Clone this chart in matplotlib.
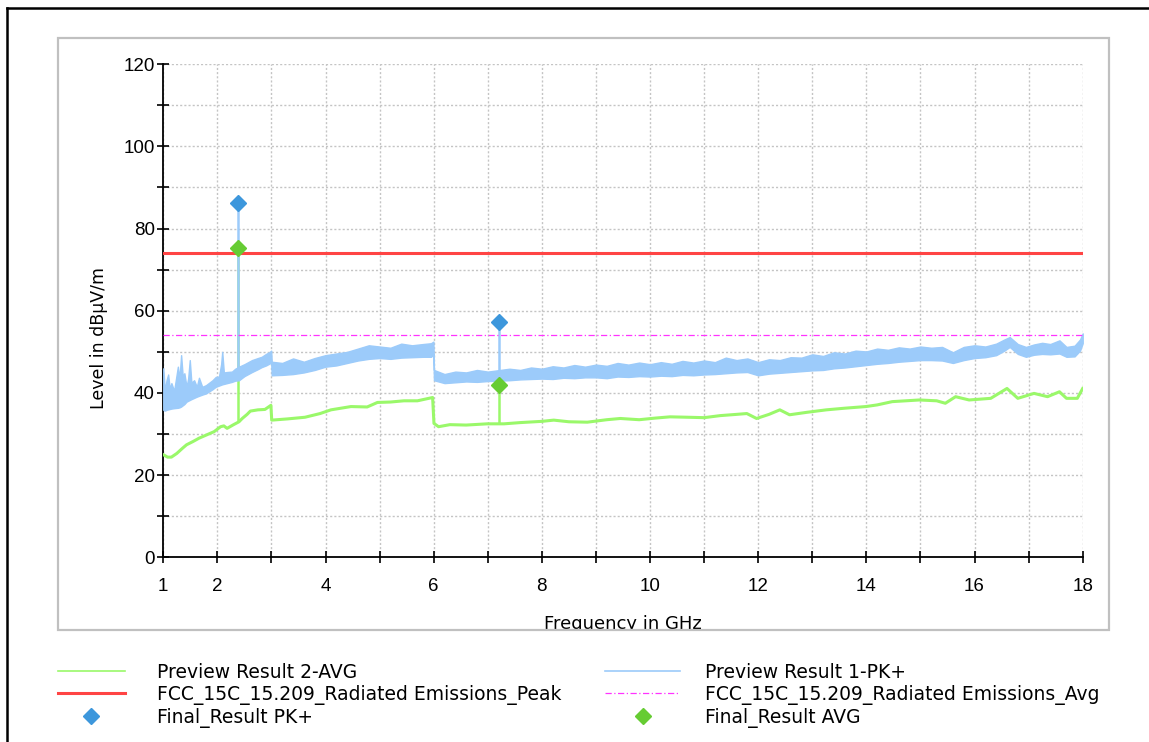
import numpy as np
import matplotlib
matplotlib.use("Agg")
import matplotlib.pyplot as plt
from matplotlib.patches import Rectangle
from matplotlib.lines import Line2D

plt.rcParams['font.family'] = ['Liberation Sans', 'DejaVu Sans']

# Preview Result 1-PK+ (noisy band: lower / upper envelope), GHz / dBuV/m
pk_freq = [1.00, 1.03, 1.06, 1.09, 1.12, 1.15, 1.20, 1.27, 1.30, 1.33, 1.36, 1.39,
           1.43, 1.46, 1.49, 1.52, 1.57, 1.62, 1.66, 1.72, 1.79, 1.85, 1.91, 1.97,
           2.03, 2.07, 2.09, 2.12, 2.18, 2.27, 2.33, 2.40, 2.50, 2.64, 2.75, 2.82,
           2.90, 2.97, 2.995,
           3.005, 3.2, 3.4, 3.6, 3.8, 4.0, 4.2, 4.4, 4.6, 4.8, 5.0, 5.2, 5.4, 5.6,
           5.8, 5.95, 5.995,
           6.005, 6.2, 6.4, 6.6, 6.8, 7.0, 7.4, 7.6, 7.8, 8.0, 8.2, 8.4, 8.6, 8.8,
           9.0, 9.2, 9.4, 9.6, 9.8, 10.0, 10.2, 10.4, 10.6, 10.8, 11.0, 11.2, 11.4,
           11.6, 11.8, 12.0, 12.2, 12.4, 12.6, 12.8, 13.0, 13.2, 13.4, 13.6, 13.8,
           14.0, 14.2, 14.4, 14.6, 14.8, 15.0, 15.2, 15.4, 15.6, 15.8, 16.0, 16.2,
           16.4, 16.55, 16.65, 16.8, 16.95, 17.1, 17.25, 17.4, 17.57, 17.7, 17.85,
           17.95, 18.0]
pk_lo = [35.9, 35.7, 35.9, 36.0, 36.1, 36.2, 36.3, 36.4, 36.5, 36.7, 37.0, 37.3,
         37.9, 38.1, 38.3, 38.5, 38.8, 39.1, 39.3, 39.6, 39.9, 40.4, 40.9, 41.5,
         41.8, 42.0, 42.1, 42.2, 42.4, 42.7, 43.0, 43.1, 44.1, 45.1, 45.8, 46.3,
         46.7, 47.2, 47.4,
         44.3, 44.4, 44.6, 45.0, 45.6, 46.4, 46.7, 47.3, 47.9, 48.3, 48.5, 48.3, 48.6, 48.7,
         48.8, 48.8, 49.3,
         43.1, 42.4, 42.6, 42.8, 42.7, 42.9, 43.1, 43.3, 43.4, 43.5, 43.4, 43.7, 43.6, 43.8,
         43.8, 43.6, 44.0, 43.9, 44.1, 44.0, 44.2, 44.1, 44.4, 44.3, 44.5, 44.6, 44.8,
         45.0, 45.1, 44.3, 44.7, 44.9, 45.1, 45.3, 45.5, 45.6, 46.0, 46.2, 46.5,
         46.8, 47.1, 47.3, 47.6, 47.8, 48.0, 48.0, 47.9, 47.3, 48.0, 48.5, 48.7,
         49.2, 50.3, 51.2, 49.5, 48.8, 49.3, 49.5, 49.4, 49.6, 48.8, 48.9,
         50.3, 52.1]
pk_hi = [46.0, 40.5, 43.1, 44.5, 41.0, 42.4, 40.5, 46.4, 43.5, 49.2, 44.0, 44.8,
         41.5, 43.5, 48.0, 42.5, 43.1, 41.5, 43.7, 41.5, 41.9, 42.5, 43.1, 43.9,
         44.0, 47.0, 50.0, 45.0, 45.1, 45.2, 45.9, 46.4, 47.0, 48.0, 48.5, 48.8,
         49.5, 50.0, 50.3,
         47.6, 47.3, 48.4, 47.6, 48.5, 49.2, 49.6, 50.0, 50.8, 51.6, 51.3, 51.0, 52.0, 51.6,
         51.9, 52.1, 52.5,
         45.6, 44.6, 45.2, 45.0, 45.6, 45.2, 45.9, 45.6, 46.2, 45.9, 46.5, 46.2, 46.8, 46.4,
         46.9, 46.6, 47.3, 46.9, 47.4, 47.0, 47.5, 47.1, 47.8, 47.4, 47.9, 47.5, 48.6,
         48.0, 48.4, 47.5, 48.2, 48.0, 48.7, 48.6, 49.4, 49.0, 49.9, 49.6, 50.3,
         50.1, 50.8, 50.5, 51.1, 50.8, 51.3, 51.0, 51.2, 49.9, 51.2, 51.6, 51.3,
         52.0, 53.0, 53.6, 51.9, 51.2, 51.8, 52.2, 51.9, 52.8, 51.2, 51.5,
         53.0, 54.5]

# Preview Result 2-AVG
avg_freq = [1.0, 1.08, 1.15, 1.25, 1.35, 1.43, 1.55, 1.66, 1.8, 1.94, 2.06, 2.12,
            2.18, 2.30, 2.40, 2.46, 2.55, 2.61, 2.75, 2.88, 2.99, 3.005, 3.3, 3.62,
            3.9, 4.1, 4.47, 4.77, 4.96, 5.2, 5.45, 5.7, 5.98, 6.005, 6.09, 6.3,
            6.6, 6.99, 7.3, 7.6, 8.0, 8.22, 8.5, 8.84, 9.2, 9.45, 9.8, 10.1,
            10.37, 10.7, 11.0, 11.3, 11.6, 11.79, 11.97, 12.2, 12.4, 12.58, 12.9, 13.26,
            13.6, 13.99, 14.2, 14.48, 14.98, 15.3, 15.46, 15.65, 15.9, 16.3, 16.6, 16.8,
            17.1, 17.35, 17.57, 17.7, 17.9, 18.0]
avg_level = [25.0, 24.4, 24.4, 25.3, 26.5, 27.4, 28.2, 29.0, 29.8, 30.6, 31.8, 32.0,
             31.4, 32.3, 33.0, 33.8, 34.8, 35.6, 35.9, 36.0, 37.0, 33.4, 33.7, 34.1,
             35.0, 35.9, 36.7, 36.6, 37.7, 37.8, 38.1, 38.1, 38.9, 32.6, 31.8, 32.3,
             32.2, 32.5, 32.5, 32.8, 33.1, 33.4, 33.0, 32.9, 33.5, 33.8, 33.5, 33.9,
             34.2, 34.1, 34.0, 34.5, 34.8, 35.0, 33.8, 34.8, 35.9, 34.7, 35.3, 35.9,
             36.3, 36.7, 37.1, 37.9, 38.3, 38.1, 37.5, 39.1, 38.3, 38.7, 41.1, 38.7,
             39.9, 39.1, 40.3, 38.7, 38.7, 41.1]

# limits
limit_peak = 74
limit_avg = 54

# final results
final_freq = [2.39, 7.21]
final_pk = [86.2, 57.3]
final_avg = [75.3, 41.9]
pk_base = [45.5, 44.5]
avg_base = [33.0, 32.5]

fig = plt.figure(figsize=(11.49, 7.42), dpi=100)
ax = fig.add_axes([0.1421, 0.2487, 0.8002, 0.665])

c_avg = '#9af86a'
c_pk = '#9ccbfa'
lab_font = ['DejaVu Sans']

ax.plot(avg_freq, avg_level, color=c_avg, lw=2.2, zorder=3)
ax.vlines(final_freq, avg_base, final_avg, color=c_avg, lw=1.8, zorder=3)
ax.fill_between(pk_freq, pk_lo, pk_hi, color=c_pk, lw=1.0, edgecolor=c_pk, zorder=4)
ax.vlines(final_freq, pk_base, final_pk, color=c_pk, lw=1.8, zorder=4)
ax.axhline(limit_peak, color='#ff4444', lw=2.2, zorder=5)
ax.axhline(limit_avg, color='#ff33ff', lw=0.9, ls=(0, (5, 2, 1, 2)), zorder=5)
ax.plot(final_freq, final_pk, 'D', color='#3d97dc', ms=8, zorder=6)
ax.plot(final_freq, final_avg, 'D', color='#66cc33', ms=8, zorder=6)

ax.set_xlim(1, 18)
ax.set_ylim(0, 120)
xt = list(range(1, 19))
ax.set_xticks(xt)
ax.set_xticklabels([str(v) if (v == 1 or v % 2 == 0) else '' for v in xt])
yt = list(range(0, 121, 10))
ax.set_yticks(yt)
ax.set_yticklabels([str(v) if v % 20 == 0 else '' for v in yt])
ax.tick_params(axis='both', direction='inout', length=9, width=1.2, labelsize=13.5)
ax.tick_params(axis='x', pad=10)
ax.tick_params(axis='y', pad=1.5)
ax.grid(True, color='#c4c4c4', ls=(0, (1.5, 1.5)), lw=1)
for s in ['top', 'right']:
    ax.spines[s].set_visible(False)
for s in ['left', 'bottom']:
    ax.spines[s].set_linewidth(1.3)
ax.set_ylabel('Level in dBµV/m', fontsize=12.5, family=lab_font)
ax.yaxis.set_label_coords(-0.060, 0.445)
ax.set_xlabel('Frequency in GHz', fontsize=13, family=lab_font, labelpad=15)

# panel around the plot (it clips the x label) and outer border
fig.add_artist(Rectangle((500 / 1149, 1 - 645 / 742), 260 / 1149, 14 / 742,
                         transform=fig.transFigure, facecolor='white', edgecolor='none', zorder=9))
fig.add_artist(Rectangle((58 / 1149, 1 - 630 / 742), 1051 / 1149, 592 / 742,
                         transform=fig.transFigure, fill=False, edgecolor='#c0c0c0', lw=1.6, zorder=10))
fig.add_artist(Line2D([7 / 1149, 7 / 1149], [0, 1 - 8 / 742], transform=fig.transFigure, color='black', lw=1.8))
fig.add_artist(Line2D([7 / 1149, 1], [1 - 8 / 742, 1 - 8 / 742], transform=fig.transFigure, color='black', lw=1.8))

# legend
h_avg = Line2D([], [], color=c_avg, lw=1.2)
h_pk = Line2D([], [], color=c_pk, lw=1.2)
h_lp = Line2D([], [], color='#ff4444', lw=2.2)
h_la = Line2D([], [], color='#ff33ff', lw=0.9, ls=(0, (5, 2, 1, 2)))
h_fp = Line2D([], [], color='#3d97dc', marker='D', ls='none', ms=8)
h_fa = Line2D([], [], color='#66cc33', marker='D', ls='none', ms=8)
leg_kw = dict(loc='upper left', frameon=False, borderpad=0, labelspacing=0.15,
              numpoints=1, borderaxespad=0, prop={'family': lab_font, 'size': 13.5})
fig.legend([h_avg, h_lp, h_fp],
           ['Preview Result 2-AVG', 'FCC_15C_15.209_Radiated Emissions_Peak', 'Final_Result PK+'],
           bbox_to_anchor=(58 / 1149, 1 - 663 / 742), handlelength=3.57, handletextpad=1.7, **leg_kw)
fig.legend([h_pk, h_la, h_fa],
           ['Preview Result 1-PK+', 'FCC_15C_15.209_Radiated Emissions_Avg', 'Final_Result AVG'],
           bbox_to_anchor=(605 / 1149, 1 - 663 / 742), handlelength=4.0, handletextpad=1.33, **leg_kw)

fig.savefig('out.png', dpi=100)
